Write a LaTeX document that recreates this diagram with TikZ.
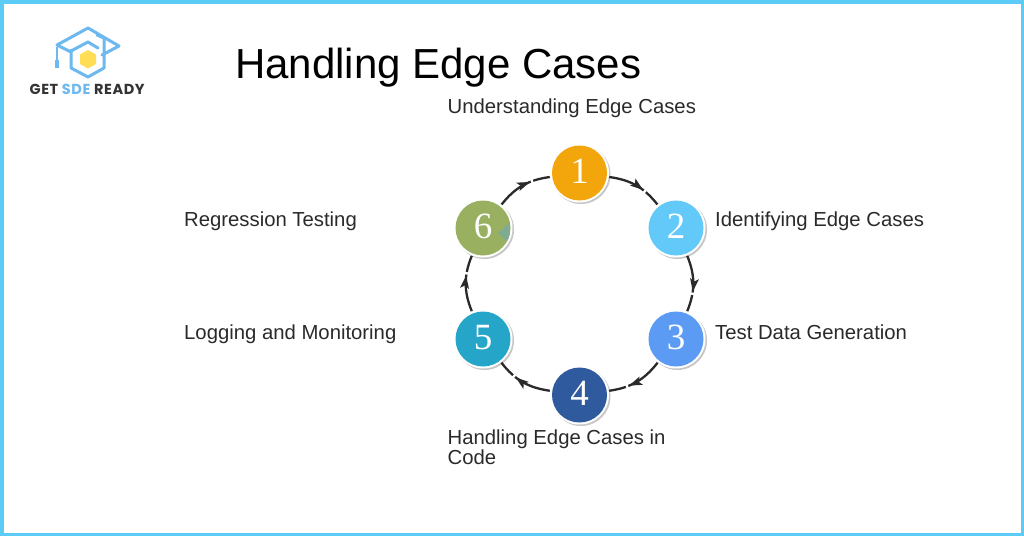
\documentclass[tikz,border=0pt]{standalone}
\usepackage{fontspec}
\setmainfont{Liberation Sans}
\newfontfamily\logofont[LetterSpace=4]{Poppins}
\newfontfamily\digitfont{Liberation Serif}
\usetikzlibrary{decorations.markings}
\definecolor{frameblue}{HTML}{5CCBF5}
\definecolor{logoblue}{HTML}{6DB8EE}
\definecolor{logoyellow}{HTML}{FFDD55}
\definecolor{inkgray}{HTML}{2A2A2A}
\definecolor{cone}{HTML}{F2A60C}
\definecolor{ctwo}{HTML}{62C9F8}
\definecolor{cthree}{HTML}{5B9BF3}
\definecolor{cfour}{HTML}{2F5A9E}
\definecolor{cfive}{HTML}{25A6C8}
\definecolor{csix}{HTML}{98B060}
\definecolor{csixteal}{HTML}{7FAB92}
\tikzset{
  x=1pt,y=-1pt,
  stepdisc/.style={circle,minimum size=55pt,inner sep=0pt,fill=#1,text=white,text depth=4pt,font=\digitfont\fontsize{37}{37}\selectfont,outer sep=2.5pt},
  stepshadow/.style={circle,minimum size=59pt,inner sep=0pt,fill=black!22},
  stepring/.style={circle,minimum size=59pt,inner sep=0pt,fill=white},
  steplabel/.style={anchor=base west,font=\fontsize{20.3}{20}\selectfont,text=inkgray,inner sep=0pt},
  ringarc/.style={line width=2.3pt,draw=inkgray,postaction={decorate},decoration={markings,
     mark=at position 0.64 with {\fill[inkgray] (0,0) -- (-13,4.5) -- (-10,0) -- (-13,-4.5) -- cycle;},
     mark=at position 0.68 with {\fill[white] (-1.2,-3) rectangle (1.2,3);}}},
  logoline/.style={draw=logoblue,line width=3pt,line join=round,line cap=round},
}
\begin{document}
\begin{tikzpicture}
\useasboundingbox (0,0) rectangle (1024,536);
\fill[white] (0,0) rectangle (1024,536);
\draw[frameblue,line width=3.5pt] (1.75,1.75) rectangle (1022.25,534.25);

% logo
\path[logoline] (57,45) -- (88,28) -- (119,46) -- (102,55);
\path[logoline] (57,45) -- (71,52);
\path[logoline] (71,50) -- (71,68) -- (88,77) -- (104,68) -- (104,38) -- (97,35);
\path[logoline] (71,51) -- (88,42) -- (98,48);
\draw[logoblue,line width=1.6pt] (57,47) -- (57,62);
\draw[logoblue,line width=3.2pt] (57,60) -- (57,68);
\fill[logoyellow] (88,50) -- (96,54.5) -- (96,64) -- (88,68.5) -- (80,64) -- (80,54.5) -- cycle;
\node[anchor=base west,inner sep=0pt,font=\logofont\bfseries\fontsize{14.5}{14.5}\selectfont,text=black!80] (logotext) at (29.5,94.5)
  {GET \textcolor{logoblue}{SDE} READY};

\node[anchor=base west,inner sep=0pt,font=\fontsize{42}{42}\selectfont,text=black] (title) at (235,78.5) {Handling Edge Cases};

% step discs
\foreach \px/\py in {579.5/173,676/228,676/339,579.5/395,483/339,483/228}{
  \node[stepshadow] at (\px+1.5,\py+1.5) {};
  \node[stepring] at (\px,\py) {};
}
\fill[csix] (483,228) circle (27.5);
\begin{scope}
  \clip (483,228) circle (27.5);
  \fill[csixteal] (510.5,222) -- (498,233) -- (510.5,245) -- cycle;
\end{scope}
\node[stepdisc=cone] (n1) at (579.5,173) {1};
\node[stepdisc=ctwo] (n2) at (676,228) {2};
\node[stepdisc=cthree] (n3) at (676,339) {3};
\node[stepdisc=cfour] (n4) at (579.5,395) {4};
\node[stepdisc=cfive] (n5) at (483,339) {5};
\node[circle,minimum size=55pt,inner sep=0pt,outer sep=2.5pt,text=white,text depth=4pt,font=\digitfont\fontsize{37}{37}\selectfont] (n6) at (483,228) {6};

\draw[ringarc] (n1) to[bend left=22] (n2);
\draw[ringarc] (n2) to[bend left=22] (n3);
\draw[ringarc] (n3) to[bend left=22] (n4);
\draw[ringarc] (n4) to[bend left=22] (n5);
\draw[ringarc] (n5) to[bend left=22] (n6);
\draw[ringarc] (n6) to[bend left=22] (n1);

% labels
\node[steplabel] (l1) at (447.5,113) {Understanding Edge Cases};
\node[steplabel] (l2) at (715,226) {Identifying Edge Cases};
\node[steplabel] (l3) at (715,339) {Test Data Generation};
\node[steplabel] (l4) at (447.5,444) {Handling Edge Cases in};
\node[steplabel] (l4b) at (447.5,464) {Code};
\node[steplabel] (l5) at (184,339) {Logging and Monitoring};
\node[steplabel] (l6) at (184,226) {Regression Testing};
\end{tikzpicture}
\end{document}
